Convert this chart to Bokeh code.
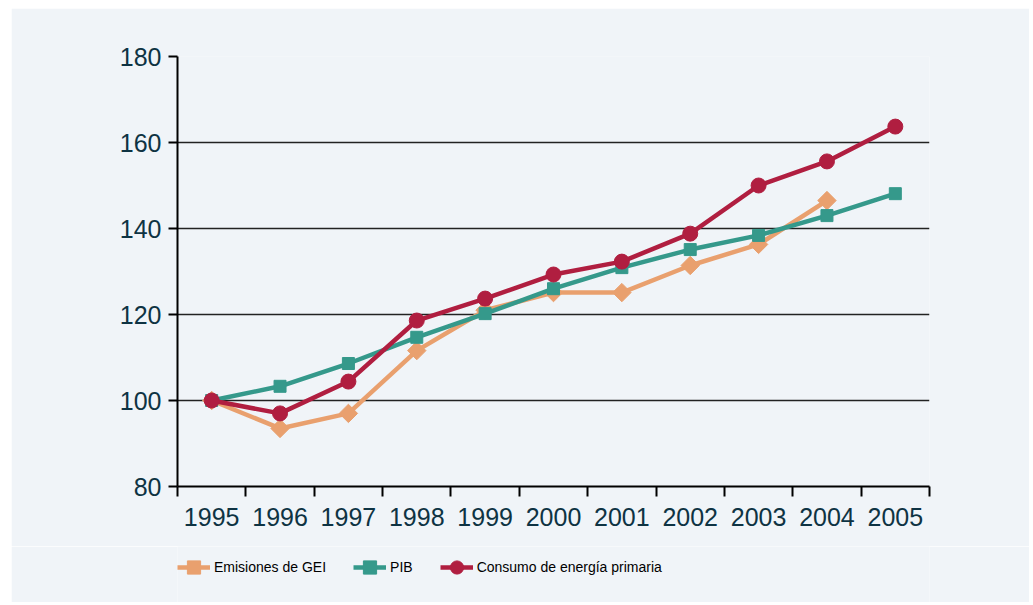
from bokeh.plotting import figure
from bokeh.layouts import column
from bokeh.models import FixedTicker, Range1d, Legend, LegendItem, ColumnDataSource
from bokeh.embed import file_html
from bokeh.resources import INLINE

years = ["1995", "1996", "1997", "1998", "1999", "2000", "2001", "2002", "2003", "2004", "2005"]
emisiones = [100.0, 93.5, 97.0, 111.6, 121.0, 125.1, 125.1, 131.4, 136.3, 146.5]
pib = [100.0, 103.3, 108.6, 114.7, 120.2, 126.0, 130.9, 135.1, 138.4, 143.0, 148.1]
consumo = [100.0, 97.0, 104.4, 118.6, 123.7, 129.3, 132.3, 138.8, 150.0, 155.6, 163.7]
y_ticks = [80, 100, 120, 140, 160, 180]
series_names = ["Emisiones de GEI", "PIB", "Consumo de energía primaria"]

BG = "#f0f4f8"
LABEL = "#0e3343"
C_EM = "#e9a06e"
C_PIB = "#35998b"
C_CON = "#b01e40"

centers = [i + 0.5 for i in range(len(years))]

p = figure(frame_width=752, frame_height=430, output_backend="svg", toolbar_location=None,
           x_range=Range1d(0, len(years)), y_range=Range1d(80, 180),
           min_border_left=166, min_border_right=100, min_border_top=48, min_border_bottom=60,
           background_fill_color=BG, border_fill_color=BG, outline_line_color=None)
p.margin = (8, 0, 0, 11)

# x axis
p.xaxis.ticker = FixedTicker(ticks=centers, minor_ticks=list(range(len(years) + 1)))
p.xaxis.major_label_overrides = {c: y for c, y in zip(centers, years)}
p.xaxis.major_tick_out = 10
p.xaxis.major_tick_in = 0
p.xaxis.major_tick_line_alpha = 0
p.xaxis.minor_tick_out = 10
p.xaxis.minor_tick_in = 0
p.xaxis.minor_tick_line_color = "black"
p.xaxis.minor_tick_line_width = 2
p.xaxis.axis_line_width = 2
p.xaxis.axis_line_color = "black"
p.xaxis.major_label_standoff = 11

# y axis
p.yaxis.ticker = FixedTicker(ticks=y_ticks)
p.yaxis.major_tick_out = 9
p.yaxis.major_tick_in = 0
p.yaxis.major_tick_line_width = 2
p.yaxis.major_tick_line_color = "black"
p.yaxis.minor_tick_line_color = None
p.yaxis.axis_line_width = 2
p.yaxis.axis_line_color = "black"
p.yaxis.major_label_standoff = 7

for ax in (p.xaxis, p.yaxis):
    ax.major_label_text_font = "Liberation Sans"
    ax.major_label_text_font_size = "25px"
    ax.major_label_text_color = LABEL

p.xgrid.grid_line_color = None
p.ygrid.ticker = FixedTicker(ticks=y_ticks)
p.ygrid.grid_line_color = "#222222"
p.ygrid.grid_line_width = 1.5

src_em = ColumnDataSource(dict(x=centers[:len(emisiones)], y=emisiones))
src_pib = ColumnDataSource(dict(x=centers, y=pib))
src_con = ColumnDataSource(dict(x=centers, y=consumo))

styles = [
    (src_em, C_EM, dict(marker="square", angle=0.785398, size=13)),
    (src_pib, C_PIB, dict(marker="square", size=12)),
    (src_con, C_CON, dict(marker="circle", size=15)),
]


def draw(fig):
    rs = []
    for src, col, mk in styles:
        ln = fig.line("x", "y", source=src, line_color=col, line_width=4.5)
        sc = fig.scatter("x", "y", source=src, fill_color=col, line_color=col, **mk)
        rs.append([ln, sc])
    return rs


draw(p)

# legend strip (separate figure so the legend is not clipped by the main frame)
lf = figure(frame_width=752, height=56, output_backend="svg", toolbar_location=None,
            x_range=Range1d(0, 1), y_range=Range1d(0, 1),
            x_axis_location=None, y_axis_location=None,
            min_border_left=166, min_border_right=100, min_border_top=0, min_border_bottom=0,
            background_fill_color=BG, border_fill_color=BG, outline_line_color=None)
lf.margin = (0, 0, 0, 11)
lf.xgrid.grid_line_color = None
lf.ygrid.grid_line_color = None
lrs = draw(lf)

legend = Legend(items=[LegendItem(label=n, renderers=r) for n, r in zip(series_names, lrs)],
                orientation="horizontal", location=(0, 17))
legend.label_text_font = "Liberation Sans"
legend.label_text_font_size = "14px"
legend.label_text_color = "black"
legend.glyph_width = 33
legend.glyph_height = 36
legend.label_standoff = 4
legend.spacing = 27
legend.padding = 0
legend.margin = 0
legend.border_line_color = None
legend.background_fill_alpha = 0
lf.add_layout(legend)

layout = column(p, lf, spacing=0)
open("out.html", "w").write(file_html(layout, INLINE))
